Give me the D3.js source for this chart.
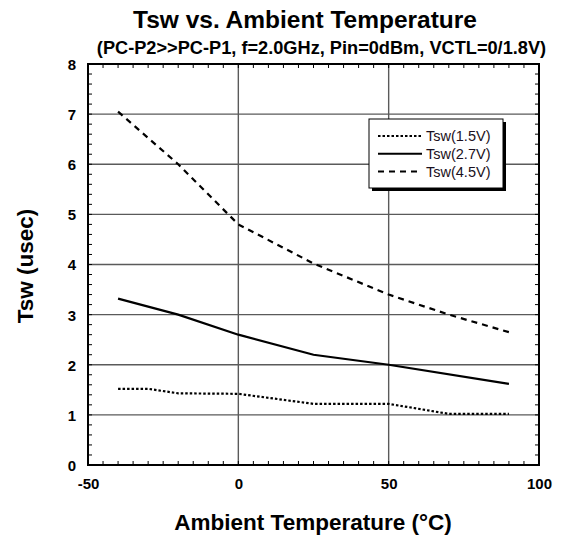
<!DOCTYPE html>
<html><head><meta charset="utf-8">
<script src="https://cdn.jsdelivr.net/npm/d3@7"></script>
<style>body{margin:0;background:#fff;font-family:"Liberation Sans",Arial,sans-serif}</style>
</head><body><svg id="c" width="562" height="541"></svg>
<script>
const temp15 = [-40,-30,-20,0,25,50,70,90];
const tsw15  = [1.52,1.52,1.43,1.42,1.22,1.22,1.02,1.02];
const temp27 = [-40,-20,0,25,50,90];
const tsw27  = [3.32,3.0,2.6,2.2,2.0,1.62];
const temp45 = [-40,-20,0,25,50,70,90];
const tsw45  = [7.05,6.0,4.8,4.02,3.4,3.0,2.65];
const seriesNames = ["Tsw(1.5V)","Tsw(2.7V)","Tsw(4.5V)"];
const xTicks = [-50,0,50,100];
const yTicks = [0,1,2,3,4,5,6,7,8];

const FF = "Liberation Sans, Arial, sans-serif";
const svg = d3.select("#c").attr("font-family",FF);
const L=88,R=539,T=64,B=465;
const x = d3.scaleLinear().domain([-50,100]).range([L,R]);
const y = d3.scaleLinear().domain([0,8]).range([B,T]);

// grid
svg.append("g").selectAll("line").data(xTicks.slice(1,-1)).join("line")
 .attr("x1",d=>x(d)).attr("x2",d=>x(d)).attr("y1",T).attr("y2",B)
 .attr("stroke","#5a5a5a").attr("stroke-width",1.4);
svg.append("g").selectAll("line").data(yTicks.slice(1,-1)).join("line")
 .attr("y1",d=>y(d)).attr("y2",d=>y(d)).attr("x1",L).attr("x2",R)
 .attr("stroke","#5a5a5a").attr("stroke-width",1.4);

// minor ticks inside on all sides
const xMinor = d3.range(-50,100.01,5);
const yMinor = d3.range(0,8.001,0.2);
const tg = svg.append("g").attr("stroke","#000").attr("stroke-width",1);
xMinor.forEach(v=>{
  tg.append("line").attr("x1",x(v)).attr("x2",x(v)).attr("y1",B).attr("y2",B-4);
  tg.append("line").attr("x1",x(v)).attr("x2",x(v)).attr("y1",T).attr("y2",T+4);
});
yMinor.forEach(v=>{
  tg.append("line").attr("y1",y(v)).attr("y2",y(v)).attr("x1",L).attr("x2",L+4);
  tg.append("line").attr("y1",y(v)).attr("y2",y(v)).attr("x1",R).attr("x2",R-4);
});

// frame
svg.append("rect").attr("x",L).attr("y",T).attr("width",R-L).attr("height",B-T)
 .attr("fill","none").attr("stroke","#000").attr("stroke-width",2);

// axes labels
const xAxis = d3.axisBottom(x).tickValues(xTicks).tickSize(0).tickFormat(d=>String(d));
const gx = svg.append("g").attr("transform",`translate(0,${B})`).call(xAxis);
gx.select(".domain").remove();
gx.selectAll("text").attr("y",24).attr("dy",null).attr("font-size",15).attr("font-weight","bold").attr("font-family",FF).attr("fill","#000");
const yAxis = d3.axisLeft(y).tickValues(yTicks).tickSize(0).tickFormat(d=>String(d));
const gy = svg.append("g").attr("transform",`translate(${L},0)`).call(yAxis);
gy.select(".domain").remove();
gy.selectAll("text").attr("x",-12).attr("dy","0.36em").attr("font-size",15).attr("font-weight","bold").attr("font-family",FF).attr("fill","#000");

// series
const line = d3.line().x(d=>x(d[0])).y(d=>y(d[1]));
const series = [
  {t:temp15,v:tsw15,dash:"2.5,2"},
  {t:temp27,v:tsw27,dash:null},
  {t:temp45,v:tsw45,dash:"6,5"}
];
series.forEach(s=>{
  svg.append("path").datum(s.t.map((t,i)=>[t,s.v[i]])).attr("d",line)
   .attr("fill","none").attr("stroke","#000").attr("stroke-width",2.2)
   .attr("stroke-dasharray",s.dash);
});

// legend
const lg = svg.append("g");
lg.append("rect").attr("x",372).attr("y",122).attr("width",134).attr("height",69).attr("fill","#000");
lg.append("rect").attr("x",369).attr("y",119).attr("width",134).attr("height",69).attr("fill","#fff").attr("stroke","#000").attr("stroke-width",1);
seriesNames.forEach((n,i)=>{
  const yy = 136+i*17.8;
  lg.append("line").attr("x1",378).attr("x2",422).attr("y1",yy).attr("y2",yy)
   .attr("stroke","#000").attr("stroke-width",2).attr("stroke-dasharray",series[i].dash);
  lg.append("text").attr("x",426).attr("y",yy+5.2).attr("font-size",14.5).attr("fill","#1a1020").text(n);
});

// titles
svg.append("text").attr("x",305).attr("y",28).attr("text-anchor","middle").attr("font-size",24.5).attr("font-weight","bold").text("Tsw vs. Ambient Temperature");
svg.append("text").attr("x",321.5).attr("y",54).attr("text-anchor","middle").attr("font-size",18.2).attr("font-weight","bold").text("(PC-P2>>PC-P1, f=2.0GHz, Pin=0dBm, VCTL=0/1.8V)");
svg.append("text").attr("x",313).attr("y",530).attr("text-anchor","middle").attr("font-size",22.5).attr("font-weight","bold").text("Ambient Temperature (°C)");
svg.append("text").attr("transform","translate(33,266) rotate(-90)").attr("text-anchor","middle").attr("font-size",22.5).attr("font-weight","bold").text("Tsw (usec)");
</script></body></html>
